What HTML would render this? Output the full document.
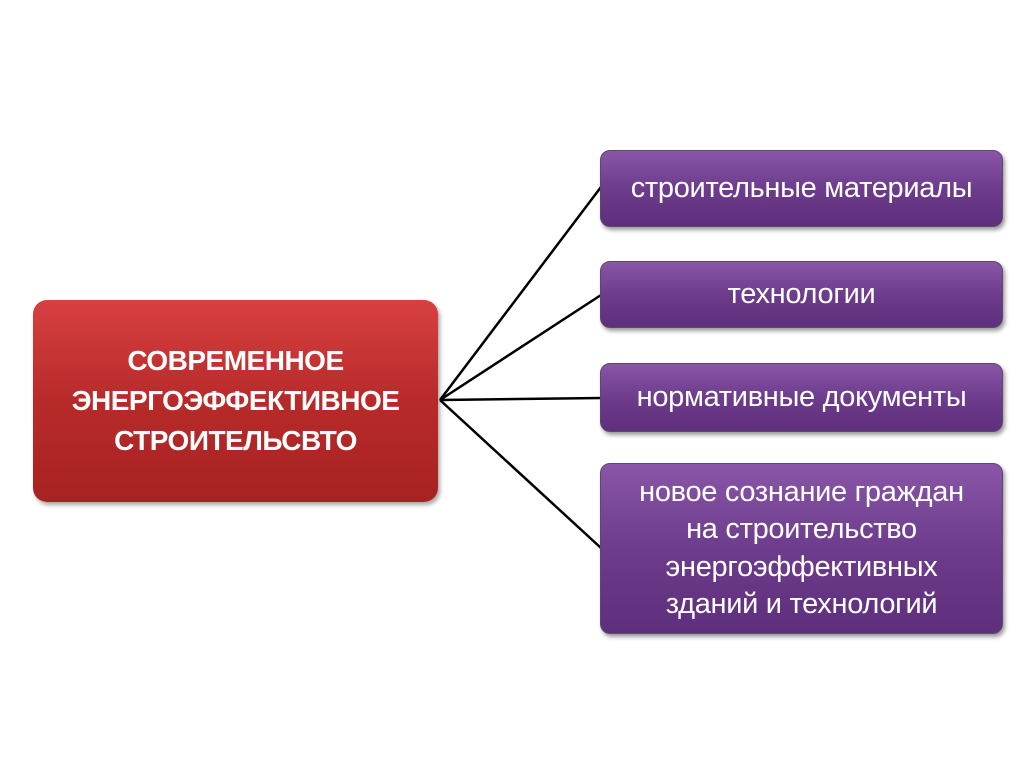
<!DOCTYPE html>
<html><head><meta charset="utf-8"><style>
body{margin:0;width:1024px;height:767px;background:#fff;position:relative;overflow:hidden;font-family:"Liberation Sans",sans-serif;}
.b{position:absolute;box-sizing:border-box;display:flex;align-items:center;justify-content:center;text-align:center;color:#fff;white-space:nowrap;}
.red{left:33px;top:300px;width:405px;height:202px;border-radius:14px;background:linear-gradient(#d84040,#b82a2a 50%,#a82222);box-shadow:2px 3px 4px rgba(0,0,0,.35);font-weight:bold;font-size:28px;line-height:40px;letter-spacing:-0.5px;}
.p{left:600px;width:403px;border-radius:10px;background:linear-gradient(#8a56a8,#6d3c8c 50%,#5e2f7c);border:1px solid #5a4a66;box-shadow:2px 3px 4px rgba(0,0,0,.4);font-size:29px;line-height:37.5px;letter-spacing:-0.3px;}
</style></head><body>
<svg style="position:absolute;left:0;top:0" width="1024" height="767">
<g stroke="#000" stroke-width="2.5" fill="none">
<line x1="440" y1="400" x2="601" y2="187"/>
<line x1="440" y1="400" x2="601" y2="295"/>
<line x1="440" y1="400" x2="601" y2="398"/>
<line x1="440" y1="400" x2="601" y2="548"/>
</g></svg>
<div class="b red">СОВРЕМЕННОЕ<br>ЭНЕРГОЭФФЕКТИВНОЕ<br>СТРОИТЕЛЬСВТО</div>
<div class="b p" style="top:150px;height:77px">строительные материалы</div>
<div class="b p" style="top:261px;height:67px">технологии</div>
<div class="b p" style="top:363px;height:69px">нормативные документы</div>
<div class="b p" style="top:463px;height:171px">новое сознание граждан<br>на строительство<br>энергоэффективных<br>зданий и технологий</div>
</body></html>
